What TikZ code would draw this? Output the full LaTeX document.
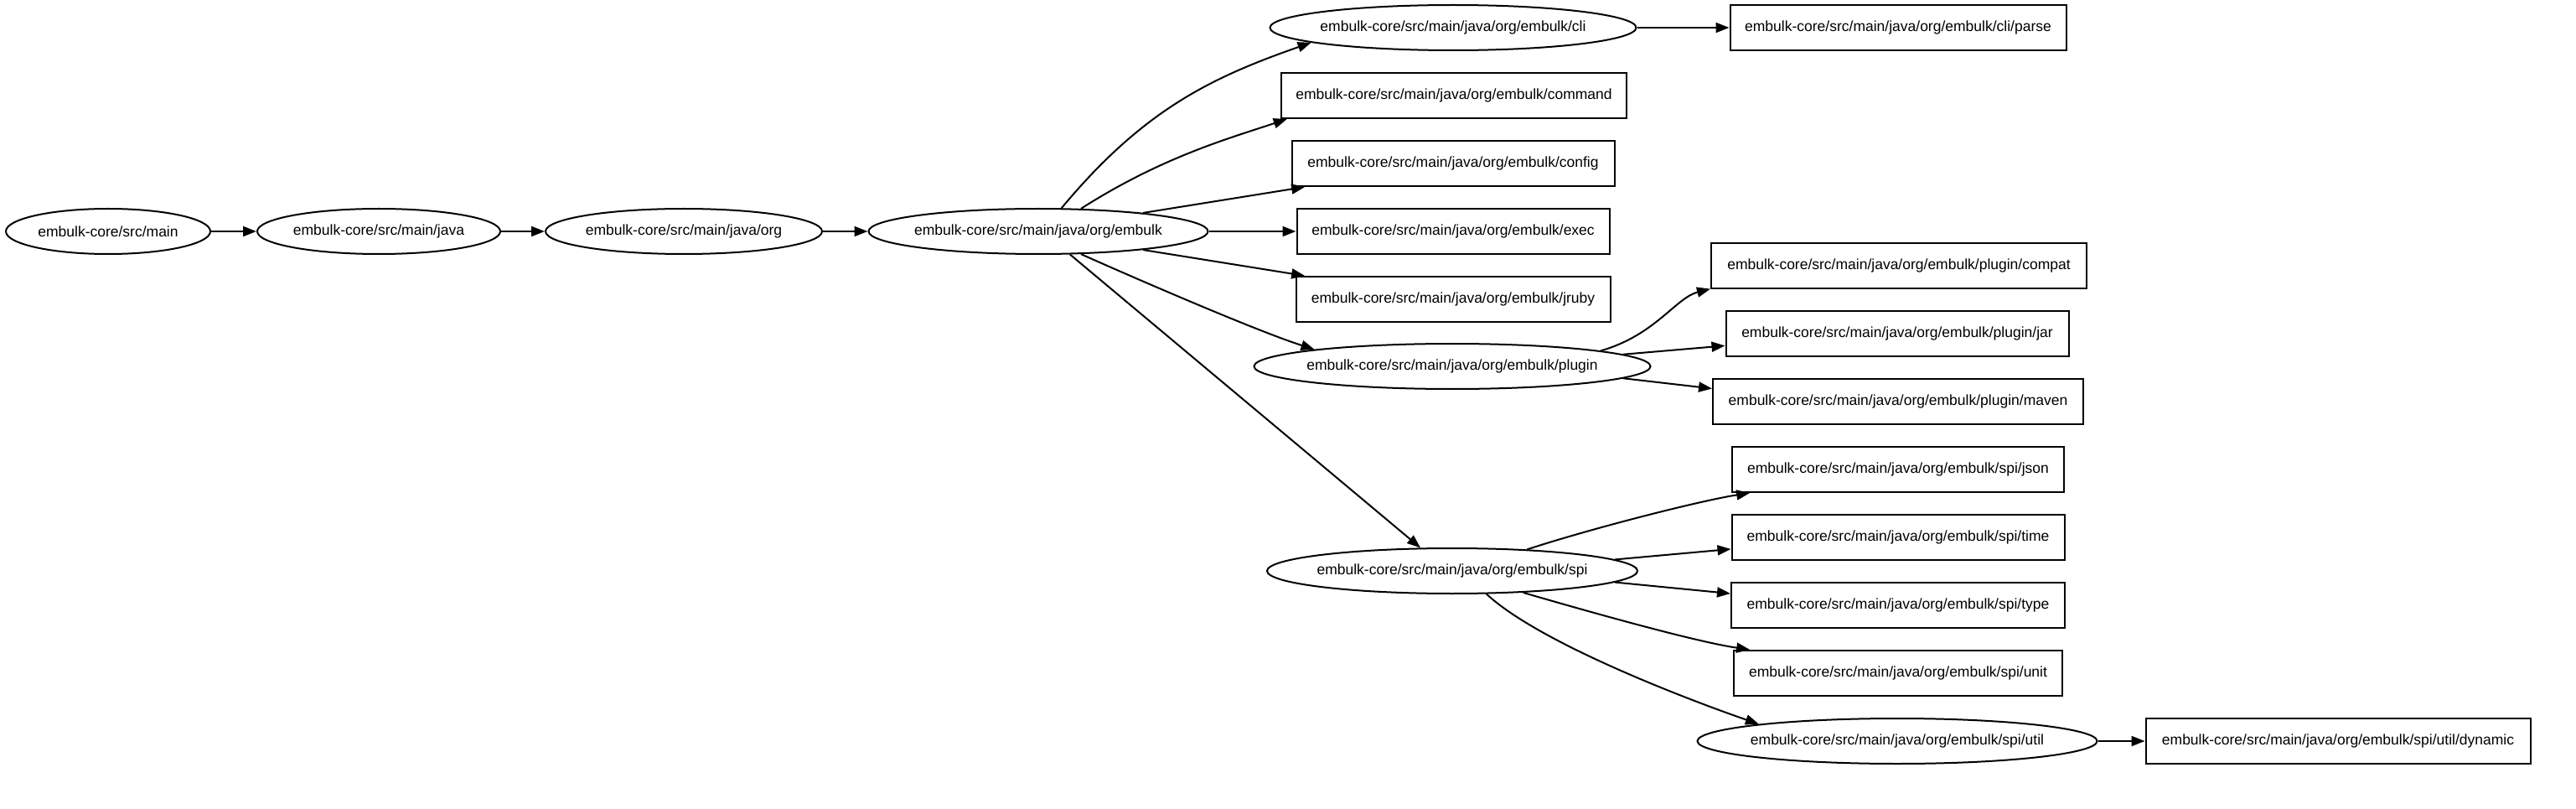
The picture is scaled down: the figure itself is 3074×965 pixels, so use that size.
\documentclass[tikz,border=0pt]{standalone}
\usepackage{fontspec}
\setmainfont{Liberation Sans}
\usetikzlibrary{shapes.geometric,arrows.meta}
\newcommand\labfont{\fontsize{17.5}{20}\selectfont}
\tikzset{
  ell/.style={draw, ellipse, line width=2pt, minimum height=54pt, inner xsep=-8pt, inner ysep=0pt, font=\labfont},
  rbox/.style={draw, rectangle, line width=2pt, minimum height=54pt, inner sep=0pt, font=\labfont},
  edge/.style={line width=2pt, -{Triangle[length=16pt,width=12pt]}}
}
\begin{document}
\begin{tikzpicture}[x=1pt,y=-1pt]
\fill[white] (0,0) rectangle (3074,965);
\useasboundingbox (0,0) rectangle (3074,965);
% rank 0-3
\node[ell, minimum width=244pt] (main) at (129,276) {embulk-core/src/main};
\node[ell, minimum width=290pt] (java) at (452,276) {embulk-core/src/main/java};
\node[ell, minimum width=330pt] (org) at (816,276) {embulk-core/src/main/java/org};
\node[ell, minimum width=405pt] (embulk) at (1239,276) {embulk-core/src/main/java/org/embulk};
% rank 4
\node[ell, minimum width=437pt] (cli) at (1734,33) {embulk-core/src/main/java/org/embulk/cli};
\node[rbox, minimum width=412pt] (command) at (1735,114) {embulk-core/src/main/java/org/embulk/command};
\node[rbox, minimum width=385pt] (config) at (1734,195) {embulk-core/src/main/java/org/embulk/config};
\node[rbox, minimum width=373pt] (exec) at (1734,276) {embulk-core/src/main/java/org/embulk/exec};
\node[rbox, minimum width=375pt] (jruby) at (1734,357) {embulk-core/src/main/java/org/embulk/jruby};
\node[ell, minimum width=473pt] (plugin) at (1733,437) {embulk-core/src/main/java/org/embulk/plugin};
\node[ell, minimum width=442pt] (spi) at (1733,681) {embulk-core/src/main/java/org/embulk/spi};
% rank 5
\node[rbox, minimum width=401pt] (parse) at (2265,33) {embulk-core/src/main/java/org/embulk/cli/parse};
\node[rbox, minimum width=448pt] (compat) at (2266,317) {embulk-core/src/main/java/org/embulk/plugin/compat};
\node[rbox, minimum width=409pt] (jar) at (2264,398) {embulk-core/src/main/java/org/embulk/plugin/jar};
\node[rbox, minimum width=442pt] (maven) at (2265,479) {embulk-core/src/main/java/org/embulk/plugin/maven};
\node[rbox, minimum width=396pt] (json) at (2265,560) {embulk-core/src/main/java/org/embulk/spi/json};
\node[rbox, minimum width=397pt] (time) at (2265,641) {embulk-core/src/main/java/org/embulk/spi/time};
\node[rbox, minimum width=398pt] (type) at (2265,722) {embulk-core/src/main/java/org/embulk/spi/type};
\node[rbox, minimum width=392pt] (unit) at (2265,803) {embulk-core/src/main/java/org/embulk/spi/unit};
\node[ell, minimum width=477pt] (util) at (2264,884) {embulk-core/src/main/java/org/embulk/spi/util};
% rank 6
\node[rbox, minimum width=459pt] (dynamic) at (2790,884) {embulk-core/src/main/java/org/embulk/spi/util/dynamic};
% edges
\draw[edge] (main) -- (java);
\draw[edge] (java) -- (org);
\draw[edge] (org) -- (embulk);
\draw[edge] (embulk.45) .. controls (1365,130) and (1447,92) .. (cli.186);
\draw[edge] (cli) -- (parse);
\draw[edge] (embulk.28) .. controls (1387,187) and (1467,165) .. (command.188);
\draw[edge] (embulk.10) -- (config.189);
\draw[edge] (embulk) -- (exec);
\draw[edge] (embulk.-10) -- (jruby.171);
\draw[edge] (embulk.-28) .. controls (1350,330) and (1500,395) .. (plugin.173);
\draw[edge] (embulk.-36) -- (spi.144);
\draw[edge] (plugin.6) .. controls (1975,400) and (2000,355) .. (compat.187);
\draw[edge] (plugin.4) -- (jar.184);
\draw[edge] (plugin.-4) -- (maven.176);
\draw[edge] (spi.16) .. controls (1900,630) and (2030,597) .. (json.189);
\draw[edge] (spi.4) -- (time.184);
\draw[edge] (spi.-4) -- (type.176);
\draw[edge] (spi.-17) .. controls (1880,725) and (2020,765) .. (unit.171);
\draw[edge] (spi.-34) .. controls (1840,770) and (2030,840) .. (util.173);
\draw[edge] (util) -- (dynamic);
\end{tikzpicture}
\end{document}
